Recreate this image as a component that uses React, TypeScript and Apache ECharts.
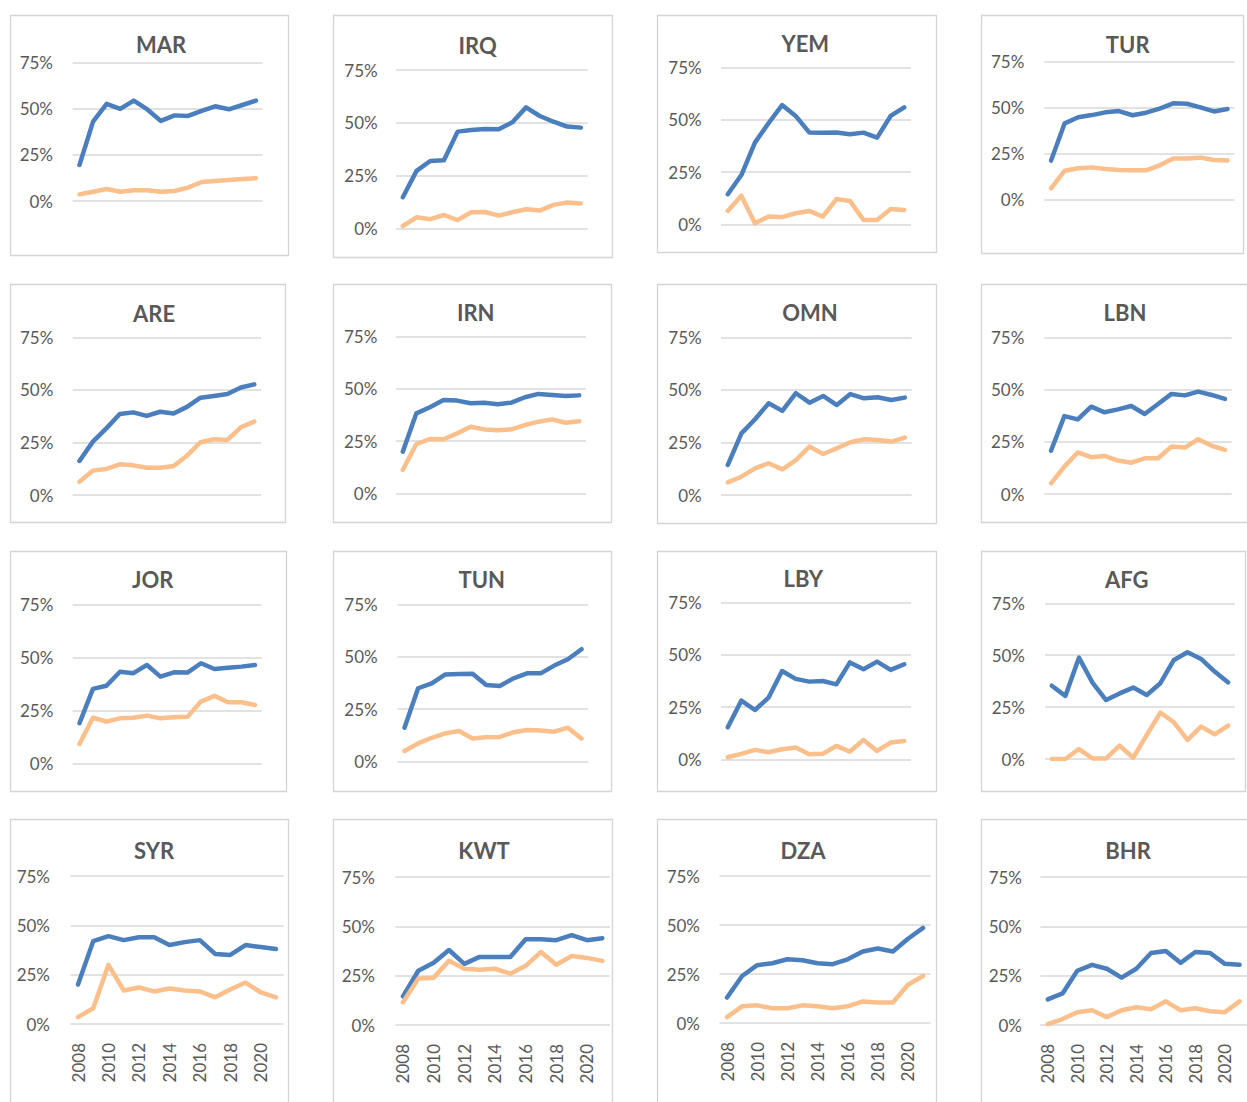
import React, { useEffect, useRef } from "react";
import * as echarts from "echarts";

const years = ["2008","2009","2010","2011","2012","2013","2014","2015","2016","2017","2018","2019","2020","2021"];
const yTicks = [0, 25, 50, 75];

// blue series then orange series, in percent
const MAR_blue = [19.5, 42.9, 52.5, 49.8, 54.3, 49.5, 43.3, 46.3, 46.0, 48.7, 51.2, 49.6, 51.9, 54.3];
const MAR_orange = [3.6, 5.0, 6.5, 5.0, 5.8, 5.8, 5.0, 5.4, 7.2, 10.3, 10.8, 11.4, 11.9, 12.3];
const IRQ_blue = [14.7, 27.2, 31.9, 32.2, 45.8, 46.6, 47.1, 46.9, 50.2, 57.3, 53.2, 50.5, 48.2, 47.7];
const IRQ_orange = [1.1, 5.2, 4.3, 6.3, 3.9, 7.6, 7.7, 6.0, 7.6, 9.0, 8.4, 11.1, 12.2, 11.8];
const YEM_blue = [14.4, 23.6, 39.1, 48.4, 57.1, 51.9, 44.0, 43.9, 44.0, 43.1, 43.9, 41.5, 51.9, 56.0];
const YEM_orange = [6.4, 13.7, 0.5, 3.7, 3.4, 5.3, 6.4, 3.7, 12.1, 11.2, 2.1, 2.1, 7.3, 6.9];
const TUR_blue = [21.1, 41.4, 44.7, 45.9, 47.4, 48.1, 45.8, 47.2, 49.4, 52.3, 52.1, 50.1, 47.9, 49.2];
const TUR_orange = [6.0, 15.6, 16.9, 17.4, 16.5, 16.0, 15.8, 15.8, 18.5, 22.3, 22.3, 22.7, 21.4, 21.2];
const ARE_blue = [16.2, 25.4, 31.7, 38.5, 39.3, 37.6, 39.6, 38.8, 41.9, 46.3, 47.1, 48.0, 51.1, 52.6];
const ARE_orange = [6.3, 11.6, 12.4, 14.6, 14.1, 13.0, 13.0, 13.8, 18.7, 25.1, 26.5, 26.2, 32.2, 34.9];
const IRN_blue = [19.9, 38.3, 41.2, 44.7, 44.4, 43.1, 43.4, 42.6, 43.4, 46.0, 47.6, 47.1, 46.6, 46.9];
const IRN_orange = [11.2, 23.6, 26.0, 25.9, 28.7, 31.9, 30.6, 30.2, 30.6, 32.7, 34.3, 35.4, 33.8, 34.5];
const OMN_blue = [14.3, 29.3, 36.0, 43.6, 40.0, 48.4, 43.9, 47.1, 42.8, 48.0, 46.0, 46.5, 45.2, 46.3];
const OMN_orange = [6.0, 8.7, 12.7, 15.1, 12.2, 16.6, 23.0, 19.5, 22.2, 25.1, 26.5, 26.2, 25.4, 27.3];
const LBN_blue = [20.7, 37.3, 35.7, 41.8, 39.1, 40.5, 42.1, 38.3, 43.1, 47.9, 47.2, 49.0, 47.4, 45.5];
const LBN_orange = [5.1, 13.1, 19.9, 17.6, 18.2, 16.0, 15.0, 17.1, 17.1, 22.7, 22.2, 26.2, 23.1, 21.1];
const JOR_blue = [18.9, 35.1, 36.6, 43.2, 42.5, 46.4, 40.9, 42.9, 42.8, 47.2, 44.5, 45.1, 45.6, 46.4];
const JOR_orange = [9.1, 21.5, 19.7, 21.2, 21.5, 22.5, 21.2, 21.7, 21.9, 29.1, 31.8, 28.8, 28.8, 27.5];
const TUN_blue = [16.2, 35.0, 37.3, 41.6, 41.8, 41.9, 36.5, 36.1, 39.7, 42.1, 42.1, 45.8, 48.8, 53.6];
const TUN_orange = [5.1, 8.7, 11.4, 13.5, 14.6, 11.1, 11.6, 11.8, 14.0, 15.1, 14.9, 14.3, 16.2, 11.1];
const LBY_blue = [15.3, 28.1, 23.6, 29.5, 42.3, 38.5, 37.2, 37.5, 35.9, 46.4, 43.1, 46.8, 42.8, 45.5];
const LBY_orange = [1.0, 2.6, 4.5, 3.4, 4.8, 5.7, 2.4, 2.6, 6.4, 3.7, 9.3, 4.0, 8.0, 8.8];
const AFG_blue = [35.3, 30.4, 48.8, 36.8, 28.4, 31.6, 34.4, 30.8, 36.5, 47.7, 51.4, 48.2, 42.1, 36.9];
const AFG_orange = [0.0, 0.0, 4.8, 0.3, 0.3, 6.4, 0.6, 11.6, 22.3, 17.7, 9.2, 15.6, 11.9, 16.1];
const SYR_blue = [20.0, 42.0, 44.5, 42.5, 44.0, 44.0, 40.0, 41.5, 42.5, 35.5, 35.0, 40.0, 39.0, 38.0];
const SYR_orange = [3.5, 8.0, 30.0, 17.0, 18.5, 16.5, 18.0, 17.0, 16.5, 13.5, 17.5, 21.0, 16.0, 13.5];
const KWT_blue = [14.5, 27.5, 31.5, 38.0, 31.0, 34.5, 34.5, 34.5, 43.5, 43.5, 43.0, 45.5, 43.0, 44.0];
const KWT_orange = [11.5, 23.5, 24.0, 32.5, 28.5, 28.0, 28.5, 26.0, 30.0, 37.0, 30.5, 35.0, 34.0, 32.5];
const DZA_blue = [13.0, 24.0, 29.5, 30.5, 32.5, 32.0, 30.5, 30.0, 32.5, 36.5, 38.0, 36.5, 43.0, 48.5];
const DZA_orange = [3.0, 8.5, 9.0, 7.5, 7.5, 9.0, 8.5, 7.5, 8.5, 11.0, 10.5, 10.5, 19.5, 24.0];
const BHR_blue = [13.0, 16.0, 27.5, 30.5, 28.5, 24.0, 28.5, 36.5, 37.5, 31.5, 37.0, 36.5, 31.0, 30.5];
const BHR_orange = [0.5, 3.0, 6.5, 7.5, 4.0, 7.5, 9.0, 8.0, 12.0, 7.5, 8.5, 7.0, 6.5, 12.0];

const panelData: [string, number[], number[]][] = [
  ["MAR", MAR_blue, MAR_orange],
  ["IRQ", IRQ_blue, IRQ_orange],
  ["YEM", YEM_blue, YEM_orange],
  ["TUR", TUR_blue, TUR_orange],
  ["ARE", ARE_blue, ARE_orange],
  ["IRN", IRN_blue, IRN_orange],
  ["OMN", OMN_blue, OMN_orange],
  ["LBN", LBN_blue, LBN_orange],
  ["JOR", JOR_blue, JOR_orange],
  ["TUN", TUN_blue, TUN_orange],
  ["LBY", LBY_blue, LBY_orange],
  ["AFG", AFG_blue, AFG_orange],
  ["SYR", SYR_blue, SYR_orange],
  ["KWT", KWT_blue, KWT_orange],
  ["DZA", DZA_blue, DZA_orange],
  ["BHR", BHR_blue, BHR_orange],
];

// layout: [boxX0, boxY0, boxX1, boxY1, gridL, gridR, gridTop(75%), gridBottom(0%), titleX, titleY, labelRight]
const layout: number[][] = [
  [10, 15, 288, 255, 72.7, 262.7, 62.3, 201, 161, 45, 53],
  [333, 15, 612, 257, 396, 587.7, 70, 228.3, 477.7, 46.7, 377.7],
  [657, 15, 936, 252, 721, 911, 67.7, 224.3, 805.3, 44.3, 701.7],
  [981, 15, 1243, 253, 1044.3, 1234.3, 61.7, 199.3, 1127.7, 45, 1024.3],
  [10, 284, 285, 522, 72.7, 261, 337.3, 495, 154, 314.3, 53.3],
  [333, 284, 611, 522, 396, 586, 336.7, 493.3, 475.7, 313.3, 377.3],
  [657, 284, 936, 523, 721, 911.7, 337.3, 495, 810, 313.3, 701.7],
  [981, 284, 1247, 522, 1044.3, 1231.7, 337.3, 494, 1125, 313.3, 1024.3],
  [10, 551, 286, 791, 72.7, 261.7, 604.3, 763.3, 152.7, 580.7, 53.3],
  [333, 551, 611, 791, 397.7, 588.3, 604.3, 761.7, 481.7, 580, 377.7],
  [657, 551, 936, 791, 721, 911, 602.7, 759.3, 803.3, 579.3, 701.7],
  [981, 551, 1245, 791, 1045, 1235, 603.3, 759, 1126.7, 580, 1025],
  [10, 819, 288, 1106, 70.4, 283.6, 876, 1024, 154, 851, 50],
  [333, 819, 612, 1106, 395.3, 610, 877, 1025, 484, 851, 375],
  [657, 819, 936, 1106, 719.5, 930.6, 876, 1023, 803, 851, 700],
  [981, 819, 1250, 1106, 1040.4, 1252.8, 877, 1025, 1128, 851, 1022],
];

const FONT = "Lato, 'Open Sans', sans-serif";
const BLUE = "#4a7ebd";
const ORANGE = "#fbbf8b";
const GRID_COLOR = "#d9d9d9";
const TEXT = "#595959";

export default function App() {
  const ref = useRef<HTMLDivElement>(null);
  useEffect(() => {
    if (!ref.current) return;
    const chart = echarts.init(ref.current, undefined, { renderer: "svg" });
    const grids: any[] = [];
    const xAxes: any[] = [];
    const yAxes: any[] = [];
    const series: any[] = [];
    const titles: any[] = [];
    const graphics: any[] = [];
    panelData.forEach(([name, blue, orange], i) => {
      const [bx0, by0, bx1, by1, gl, gr, gt, gb, tx, ty, lr] = layout[i];
      const bottomRow = i >= 12;
      graphics.push({
        type: "rect",
        silent: true,
        z: -10,
        shape: { x: bx0 + 0.5, y: by0 + 0.5, width: bx1 - bx0, height: by1 - by0 },
        style: { fill: "#ffffff", stroke: "#d4d4d4", lineWidth: 1.3 },
      });
      titles.push({
        text: name,
        left: tx,
        top: ty - 12,
        padding: 0,
        textAlign: "center",
        textStyle: { fontFamily: FONT, fontWeight: "bold", fontSize: 22, color: TEXT },
      });
      grids.push({ left: gl, top: gt, width: gr - gl, height: gb - gt, containLabel: false });
      xAxes.push({
        gridIndex: i,
        type: "category",
        data: years,
        boundaryGap: true,
        axisLine: { show: false },
        axisTick: { show: false },
        axisLabel: bottomRow
          ? { show: true, rotate: 90, interval: 1, margin: 19, fontSize: 17, color: TEXT, fontFamily: FONT }
          : { show: false },
      });
      yAxes.push({
        gridIndex: i,
        type: "value",
        min: yTicks[0],
        max: yTicks[yTicks.length - 1],
        interval: 25,
        axisLine: { show: false },
        axisTick: { show: false },
        axisLabel: { formatter: "{value}%", fontSize: 17, color: TEXT, fontFamily: FONT, margin: gl - lr },
        splitLine: { lineStyle: { color: GRID_COLOR, width: 1.5 } },
      });
      series.push({
        type: "line",
        name: name + " blue",
        xAxisIndex: i,
        yAxisIndex: i,
        data: blue,
        symbol: "none",
        lineStyle: { color: BLUE, width: 4.5, join: "round", cap: "round" },
        itemStyle: { color: BLUE },
      });
      series.push({
        type: "line",
        name: name + " orange",
        xAxisIndex: i,
        yAxisIndex: i,
        data: orange,
        symbol: "none",
        lineStyle: { color: ORANGE, width: 4.5, join: "round", cap: "round" },
        itemStyle: { color: ORANGE },
      });
    });
    chart.setOption({
      animation: false,
      backgroundColor: "#ffffff",
      textStyle: { fontFamily: FONT },
      title: titles,
      grid: grids,
      xAxis: xAxes,
      yAxis: yAxes,
      series,
      graphic: graphics,
    });
    return () => chart.dispose();
  }, []);
  return (
    <div
      ref={ref}
      style={{ position: "absolute", left: 0, top: 0, width: 1247, height: 1102 }}
    />
  );
}
